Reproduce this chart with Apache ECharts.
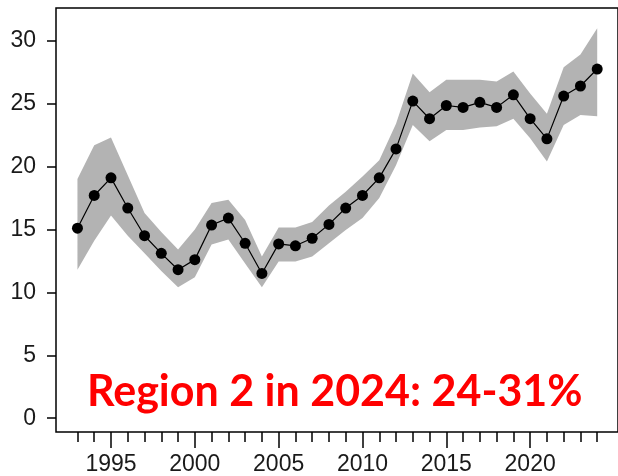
<!DOCTYPE html>
<html>
<head>
<meta charset="utf-8">
<script src="https://cdn.jsdelivr.net/npm/echarts@6/dist/echarts.min.js"></script>
<style>
  html, body { margin: 0; padding: 0; background: #fff; }
  #chart { width: 618px; height: 476px; }
</style>
</head>
<body>
<div id="chart"></div>
<script>
// Annual estimate (%) with its uncertainty band, 1993-2024
const years = [1993, 1994, 1995, 1996, 1997, 1998, 1999, 2000, 2001, 2002, 2003,
  2004, 2005, 2006, 2007, 2008, 2009, 2010, 2011, 2012, 2013, 2014, 2015, 2016,
  2017, 2018, 2019, 2020, 2021, 2022, 2023, 2024];
const estimate = [15.1, 17.7, 19.1, 16.7, 14.5, 13.1, 11.8, 12.6, 15.35, 15.9, 13.9,
  11.5, 13.85, 13.7, 14.3, 15.4, 16.7, 17.7, 19.1, 21.4, 25.2, 23.8, 24.85, 24.7,
  25.1, 24.7, 25.7, 23.8, 22.2, 25.6, 26.4, 27.75];
const lowerBound = [11.8, 14.1, 16.1, 14.5, 13.1, 11.7, 10.4, 11.2, 13.8, 14.2, 12.3,
  10.4, 12.45, 12.45, 12.85, 13.9, 14.95, 15.9, 17.5, 20.1, 23.3, 22.0, 22.9, 22.9,
  23.1, 23.2, 23.8, 22.25, 20.4, 23.3, 24.1, 24.0];
const upperBound = [19.0, 21.7, 22.3, 19.3, 16.3, 14.8, 13.4, 15.0, 17.1, 17.35, 15.75,
  12.85, 15.15, 15.15, 15.6, 16.9, 18.0, 19.2, 20.5, 23.4, 27.4, 25.9, 26.9, 26.9,
  26.9, 26.75, 27.55, 25.8, 24.2, 27.9, 28.9, 31.0];
const yTickValues = [0, 5, 10, 15, 20, 25, 30];
const xLabelYears = [1995, 2000, 2005, 2010, 2015, 2020];
const annotation = 'Region 2 in 2024: 24-31%';

const chart = echarts.init(document.getElementById('chart'), null, { renderer: 'canvas' });

const axisFont = { fontFamily: '"Liberation Sans", Arial, sans-serif', fontSize: 23, color: '#1a1a1a' };
const plainNumber = v => String(v);
const xMin = 1991.72, xMax = 2025.24;

const bandData = years.map((y, i) => [y, lowerBound[i], upperBound[i]]);

const option = {
  animation: false,
  backgroundColor: '#fff',
  grid: {
    left: 56, top: 8, right: -6, bottom: 44,
    show: true, borderColor: '#000', borderWidth: 1.5, backgroundColor: 'transparent'
  },
  xAxis: [
    {
      type: 'value', min: xMin, max: xMax, position: 'bottom',
      axisLine: { show: false, onZero: false },
      axisTick: { show: true, customValues: years, length: 10, lineStyle: { color: '#000', width: 1.5 } },
      axisLabel: { show: false },
      splitLine: { show: false }
    },
    {
      type: 'value', min: xMin, max: xMax, position: 'bottom',
      axisLine: { show: false, onZero: false },
      axisTick: { show: true, customValues: xLabelYears, length: 16, lineStyle: { color: '#000', width: 1.5 } },
      axisLabel: Object.assign({ customValues: xLabelYears, margin: 21, formatter: plainNumber }, axisFont),
      splitLine: { show: false }
    }
  ],
  yAxis: {
    type: 'value', min: -1.1, max: 32.6,
    axisLine: { show: false, onZero: false },
    axisTick: { show: true, customValues: yTickValues, length: 9, lineStyle: { color: '#000', width: 1.5 } },
    axisLabel: Object.assign({ customValues: yTickValues, margin: 20, formatter: plainNumber }, axisFont),
    splitLine: { show: false }
  },
  graphic: [{
    type: 'text',
    left: 87, top: 371,
    style: {
      text: annotation,
      fill: '#ff0000',
      font: 'bold 43px Lato, "Open Sans", sans-serif'
    },
    z: 10
  }],
  series: [
    {
      // shaded uncertainty band drawn as one polygon through the axis scales
      type: 'custom',
      data: bandData,
      encode: { x: 0, y: [1, 2] },
      z: 1,
      silent: true,
      renderItem: function (params, api) {
        if (params.dataIndex !== 0) return null;
        const pts = [];
        for (let i = 0; i < bandData.length; i++) pts.push(api.coord([bandData[i][0], bandData[i][2]]));
        for (let i = bandData.length - 1; i >= 0; i--) pts.push(api.coord([bandData[i][0], bandData[i][1]]));
        return { type: 'polygon', shape: { points: pts }, style: { fill: '#b3b3b3' } };
      }
    },
    {
      type: 'line',
      data: years.map((y, i) => [y, estimate[i]]),
      symbol: 'circle',
      symbolSize: 11,
      itemStyle: { color: '#000' },
      lineStyle: { color: '#000', width: 1.2 },
      z: 3,
      silent: true
    }
  ]
};

chart.setOption(option);
</script>
</body>
</html>
